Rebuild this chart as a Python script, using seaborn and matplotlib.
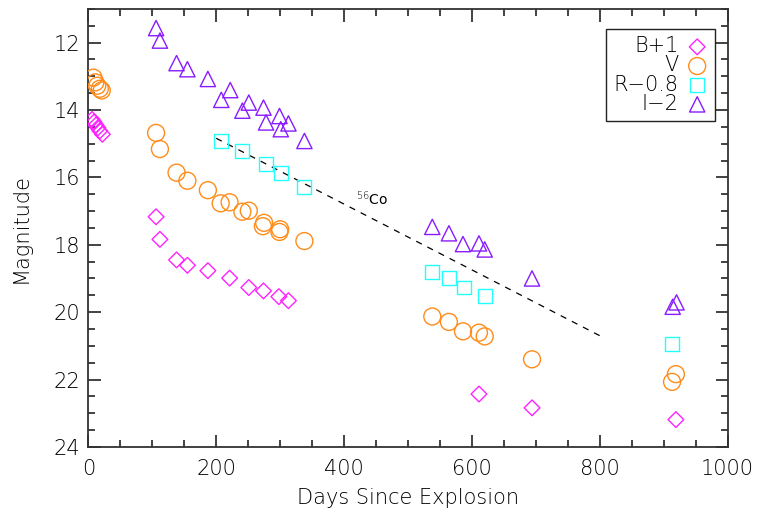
import matplotlib
matplotlib.use("Agg")
import matplotlib.pyplot as plt
import seaborn as sns
import numpy as np
from matplotlib.ticker import MultipleLocator

# ---- data ----
b_days = [6, 9, 12, 15, 18, 22, 106, 112, 138, 155, 187, 221, 251, 274, 298, 313, 611, 694, 919]
b_mag = [14.28, 14.36, 14.45, 14.53, 14.62, 14.72, 17.17, 17.84, 18.45, 18.61, 18.77, 18.99,
         19.27, 19.37, 19.54, 19.66, 22.43, 22.84, 23.19]

v_days = [8, 11, 14, 18, 21, 106, 112, 138, 155, 187, 207, 221, 241, 251, 275, 273, 300, 299, 338,
          538, 564, 586, 611, 620, 694, 913, 919]
v_mag = [13.04, 13.18, 13.28, 13.37, 13.42, 14.68, 15.16, 15.86, 16.10, 16.38, 16.77, 16.74,
         17.02, 16.99, 17.35, 17.45, 17.54, 17.62, 17.89, 20.13, 20.29, 20.57, 20.61, 20.72,
         21.40, 22.07, 21.84]

r_days = [208, 241, 278, 301, 337, 538, 564, 587, 620, 913]
r_mag = [14.91, 15.22, 15.61, 15.86, 16.29, 18.81, 18.99, 19.27, 19.53, 20.95]

i_days = [106, 112, 138, 155, 187, 222, 208, 251, 241, 274, 278, 299, 313, 301, 338,
          538, 564, 586, 611, 620, 694, 914, 920]
i_mag = [11.57, 11.94, 12.61, 12.79, 13.08, 13.41, 13.70, 13.78, 14.02, 13.93, 14.37, 14.18,
         14.40, 14.57, 14.92, 17.47, 17.66, 17.98, 17.96, 18.14, 19.00, 19.84, 19.71]

co_days = [200, 800]
co_mag = [14.84, 20.70]

labels = ["B+1", "V", "R\u22120.8", "I\u22122"]
colors = ["#ff22ff", "#ff8c1a", "#22ffff", "#8a1aff"]
markers = ["D", "o", "s", "^"]
sizes = [8.0 ** 2, 12.2 ** 2, 10.0 ** 2, 11.0 ** 2]

sns.set_style("ticks")
plt.rcParams["font.family"] = ["DejaVu Sans"]
plt.rcParams["font.weight"] = "light"
plt.rcParams["axes.labelweight"] = "light"
plt.rcParams["text.color"] = "black"
plt.rcParams["axes.labelcolor"] = "black"
plt.rcParams["xtick.color"] = "#222222"
plt.rcParams["ytick.color"] = "#222222"
plt.rcParams["xtick.labelcolor"] = "black"
plt.rcParams["ytick.labelcolor"] = "black"

fig = plt.figure(figsize=(7.58, 5.23), dpi=100)
ax = fig.add_axes([0.1165, 0.1455, 0.8435, 0.8375])

series = [(b_days, b_mag), (v_days, v_mag), (r_days, r_mag), (i_days, i_mag)]
for (d, m), lab, col, mk, s in zip(series, labels, colors, markers, sizes):
    sns.scatterplot(x=d, y=m, marker=mk, s=s, color=col, facecolor="none",
                    edgecolor=col, linewidth=1.0, label=lab, ax=ax, zorder=3)

sns.lineplot(x=co_days, y=co_mag, color="black", linestyle=(0, (5, 5)), linewidth=0.9,
             ax=ax, legend=False)
ax.text(419, 16.64, r"$^{56}$Co", fontsize=10, ha="left", va="center", color="black",
        fontweight="normal")

ax.set_xlim(0, 1000)
ax.set_ylim(24, 11)
ax.xaxis.set_major_locator(MultipleLocator(200))
ax.xaxis.set_minor_locator(MultipleLocator(50))
ax.yaxis.set_major_locator(MultipleLocator(2))
ax.yaxis.set_minor_locator(MultipleLocator(0.5))
ax.tick_params(which="both", direction="in", top=True, right=True, labelsize=15, width=1.2)
ax.tick_params(which="major", length=9)
ax.tick_params(which="minor", length=5)
ax.tick_params(axis="x", which="major", pad=9)
ax.tick_params(axis="y", which="major", pad=6)
for sp in ax.spines.values():
    sp.set_visible(True)
    sp.set_linewidth(1.3)
    sp.set_color("#333333")

ax.set_xlabel("Days Since Explosion", fontsize=15, labelpad=6)
ax.set_ylabel("Magnitude", fontsize=15, labelpad=16)

leg = ax.legend(loc="upper right", bbox_to_anchor=(0.98, 0.954), borderaxespad=0,
                markerfirst=False, fontsize=15, frameon=True, fancybox=False, framealpha=1,
                edgecolor="#222222", handletextpad=0.4, labelspacing=-0.04,
                borderpad=0.35, handlelength=1.0)
leg.get_frame().set_linewidth(1.0)
for t in leg.get_texts():
    t.set_ha("right")

fig.savefig("out.png", dpi=100)
